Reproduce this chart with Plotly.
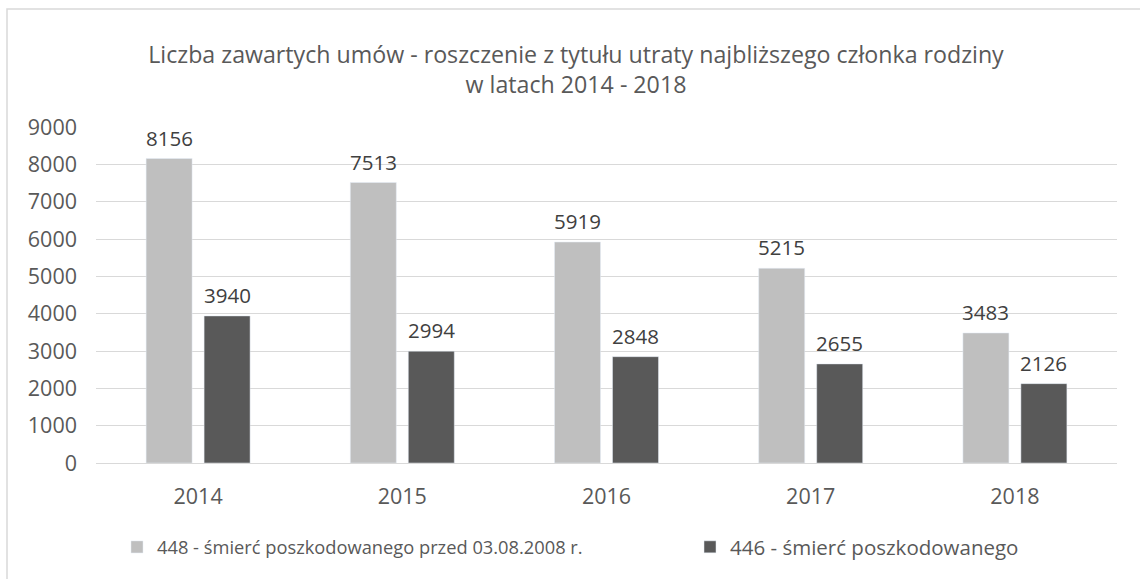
import plotly.graph_objects as go

years = ["2014", "2015", "2016", "2017", "2018"]
series1_name = "448 - śmierć poszkodowanego przed 03.08.2008 r."
series1 = [8156, 7513, 5919, 5215, 3483]
series2_name = "446 - śmierć poszkodowanego"
series2 = [3940, 2994, 2848, 2655, 2126]
y_ticks = [0, 1000, 2000, 3000, 4000, 5000, 6000, 7000, 8000, 9000]

FONT = "Open Sans"
TXT = "#595959"
LBL = "#404040"

W, H = 1140, 579
L, R, T, B = 96, 23, 127, 116
pw, ph = W - L - R, H - T - B

fig = go.Figure()
fig.add_trace(go.Bar(x=years, y=series1, name=series1_name, marker_color="#BFBFBF",
                     legend="legend", showlegend=True))
fig.add_trace(go.Bar(x=years, y=series2, name=series2_name, marker_color="#595959",
                     legend="legend2", showlegend=True))

# data labels above bars (category index positions on the x axis)
for vals, shift in ((series1, -29), (series2, 29)):
    for i, v in enumerate(vals):
        fig.add_annotation(x=i, y=v, xref="x", yref="y", text=str(v), showarrow=False,
                           xshift=shift, yshift=21, yanchor="middle",
                           font=dict(family=FONT, size=20.5, color=LBL))

leg_common = dict(orientation="h", xanchor="left", xref="container",
                  y=1 - 547 / H, yanchor="middle", yref="container",
                  itemwidth=30, bgcolor="rgba(0,0,0,0)", visible=True)

fig.update_layout(
    width=W, height=H,
    showlegend=True,
    margin=dict(l=L, r=R, t=T, b=B),
    paper_bgcolor="white", plot_bgcolor="white",
    barmode="group", bargap=0.432, bargroupgap=0.207,
    font=dict(family=FONT, color=TXT),
    title=dict(text="Liczba zawartych umów - roszczenie z tytułu utraty najbliższego członka rodziny<br>w latach 2014 - 2018",
               x=576 / W, xanchor="center", xref="container",
               y=1 - 63 / H, yanchor="middle", yref="container",
               font=dict(family=FONT, size=23.2, color=TXT)),
    xaxis=dict(type="category", range=[-0.5, 4.5], showline=True, linecolor="#D9D9D9",
               linewidth=1, ticks="", ticklabelstandoff=14,
               tickfont=dict(family=FONT, size=21.5, color=TXT)),
    yaxis=dict(range=[0, 9000], tickvals=y_ticks, showgrid=True, gridcolor="#D9D9D9",
               gridwidth=1, zeroline=False, ticks="", ticklen=0,
               ticklabelstandoff=18,
               tickfont=dict(family=FONT, size=21.5, color=TXT)),
    legend=dict(x=117 / W, font=dict(family=FONT, size=18.3, color=TXT), **leg_common),
    legend2=dict(x=690 / W, font=dict(family=FONT, size=20.5, color=TXT), **leg_common),
)

# chart border (only top and left edges visible in crop)
x0 = (7 - L) / pw
y1 = (H - B - 9) / ph
fig.add_shape(type="rect", xref="paper", yref="paper", x0=x0, x1=1.2, y0=-1, y1=y1,
              line=dict(color="#D9D9D9", width=1.5), fillcolor="rgba(0,0,0,0)", layer="below")

fig.write_html("out.html", config={"displayModeBar": False},
               post_script="document.body.style.margin='0px';")
